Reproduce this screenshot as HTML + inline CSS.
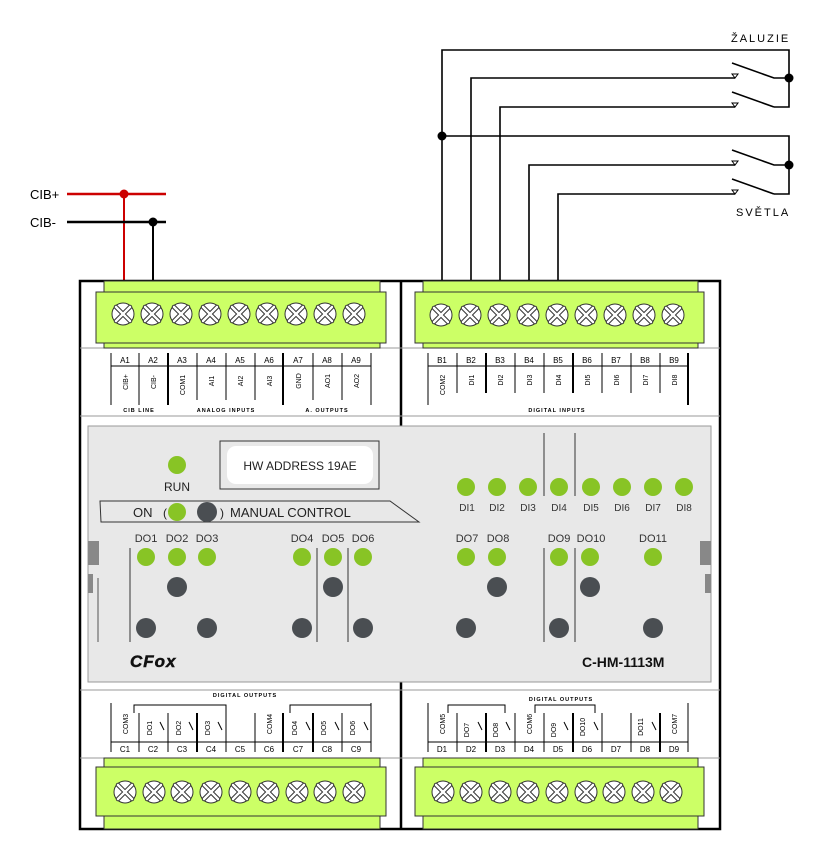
<!DOCTYPE html>
<html><head><meta charset="utf-8"><style>
html,body{margin:0;padding:0;background:#fff}
svg{display:block}
text{font-family:"Liberation Sans",sans-serif}
.s{font-size:8px;font-family:"Liberation Mono",monospace;fill:#000}
.t{font-size:5.5px;font-weight:bold;letter-spacing:1px;fill:#000}
.l{font-size:12px;fill:#222}
.d{font-size:11px;fill:#333}
</style></head><body>
<svg width="825" height="862" viewBox="0 0 825 862" xmlns="http://www.w3.org/2000/svg">
<defs>
<g id="sc">
<circle r="11" fill="#fff" stroke="#333" stroke-width="1"/>
<path d="M-7,-7 L7,7 M7,-7 L-7,7" stroke="#333" stroke-width="4.5" stroke-linecap="round"/>
<path d="M-7,-7 L7,7 M7,-7 L-7,7" stroke="#fff" stroke-width="2.5" stroke-linecap="round"/>
</g>
</defs>
<!-- wiring CIB -->
<text x="30" y="199" style="font-size:13px">CIB+</text>
<text x="30" y="227" style="font-size:13px">CIB-</text>
<line x1="67" y1="194" x2="166" y2="194" stroke="#c00" stroke-width="2.5"/>
<line x1="124" y1="194" x2="124" y2="281" stroke="#c00" stroke-width="2"/>
<circle cx="124" cy="194" r="4.5" fill="#c00"/>
<line x1="67" y1="222" x2="166" y2="222" stroke="#000" stroke-width="2.5"/>
<line x1="153" y1="222" x2="153" y2="281" stroke="#000" stroke-width="2"/>
<circle cx="153" cy="222" r="4.5" fill="#000"/>
<!-- right wiring -->
<g stroke="#000" stroke-width="1.6" fill="none">
<path d="M442,281 V50 H789 V107 H774"/>
<path d="M471,281 V78 H735"/>
<path d="M500,281 V107 H735"/>
<path d="M442,136 H789 V194 H774"/>
<path d="M529,281 V165 H735"/>
<path d="M558,281 V194 H735"/>
<path d="M732,63 L774,78 H789"/>
<path d="M732,92 L774,107"/>
<path d="M732,150 L774,165 H789"/>
<path d="M732,179 L774,194"/>
<path d="M735,78 l-3,-4 l6,0 z M735,107 l-3,-4 l6,0 z M735,165 l-3,-4 l6,0 z M735,194 l-3,-4 l6,0 z" stroke-width="1"/>
</g>
<circle cx="789" cy="78" r="4.5"/><circle cx="789" cy="165" r="4.5"/><circle cx="442" cy="136" r="4.5"/>
<text x="731" y="42" style="font-size:11px;letter-spacing:2px">ŽALUZIE</text>
<text x="736" y="216" style="font-size:11px;letter-spacing:2px">SVĚTLA</text>
<!-- module -->
<rect x="80" y="281" width="640" height="548" fill="#fff" stroke="#000" stroke-width="2.5"/>
<line x1="401" y1="281" x2="401" y2="829" stroke="#000" stroke-width="2.5"/>
<line x1="80" y1="348" x2="720" y2="348" stroke="#999" stroke-width="1"/>
<line x1="80" y1="416" x2="720" y2="416" stroke="#999" stroke-width="1"/>
<line x1="80" y1="690" x2="720" y2="690" stroke="#999" stroke-width="1"/>
<line x1="80" y1="758" x2="720" y2="758" stroke="#999" stroke-width="1"/>
<!-- terminal blocks -->
<g fill="#ccff66" stroke="#333" stroke-width="1">
<rect x="104" y="281" width="276" height="67"/><rect x="96" y="292" width="290" height="51"/>
<rect x="423" y="281" width="275" height="67"/><rect x="415" y="292" width="289" height="51"/>
<rect x="104" y="758" width="276" height="71"/><rect x="96" y="767" width="290" height="49"/>
<rect x="423" y="758" width="275" height="71"/><rect x="415" y="767" width="289" height="49"/>
</g>
<g>
<use href="#sc" x="123" y="314"/><use href="#sc" x="152" y="314"/><use href="#sc" x="181" y="314"/><use href="#sc" x="210" y="314"/><use href="#sc" x="239" y="314"/><use href="#sc" x="267" y="314"/><use href="#sc" x="296" y="314"/><use href="#sc" x="325" y="314"/><use href="#sc" x="354" y="314"/>
<use href="#sc" x="441" y="315"/><use href="#sc" x="470" y="315"/><use href="#sc" x="499" y="315"/><use href="#sc" x="528" y="315"/><use href="#sc" x="557" y="315"/><use href="#sc" x="586" y="315"/><use href="#sc" x="615" y="315"/><use href="#sc" x="644" y="315"/><use href="#sc" x="673" y="315"/>
<use href="#sc" x="125" y="792"/><use href="#sc" x="154" y="792"/><use href="#sc" x="182" y="792"/><use href="#sc" x="211" y="792"/><use href="#sc" x="240" y="792"/><use href="#sc" x="268" y="792"/><use href="#sc" x="297" y="792"/><use href="#sc" x="325" y="792"/><use href="#sc" x="354" y="792"/>
<use href="#sc" x="443" y="792"/><use href="#sc" x="471" y="792"/><use href="#sc" x="500" y="792"/><use href="#sc" x="528" y="792"/><use href="#sc" x="557" y="792"/><use href="#sc" x="586" y="792"/><use href="#sc" x="614" y="792"/><use href="#sc" x="643" y="792"/><use href="#sc" x="671" y="792"/>
</g>
<!-- top-left labels -->
<g stroke="#000" stroke-width="1">
<line x1="111" y1="354" x2="371" y2="354" stroke="none"/>
<line x1="111" y1="366" x2="371" y2="366"/>
<path d="M111,353V405 M139,353V405 M197,353V400 M226,353V400 M255,353V400 M313,353V400 M342,353V400 M371,353V405"/>
<path d="M168,353V405 M283,353V405" stroke-width="2"/>
</g>
<g class="s" text-anchor="middle">
<text x="125" y="363">A1</text><text x="153" y="363">A2</text><text x="182" y="363">A3</text><text x="211" y="363">A4</text><text x="240" y="363">A5</text><text x="269" y="363">A6</text><text x="298" y="363">A7</text><text x="327" y="363">A8</text><text x="356" y="363">A9</text>
</g>
<g class="s" text-anchor="middle" style="font-size:7px">
<text transform="translate(128,382) rotate(-90)">CIB+</text><text transform="translate(156,382) rotate(-90)">CIB-</text><text transform="translate(185,385) rotate(-90)">COM1</text><text transform="translate(214,381) rotate(-90)">AI1</text><text transform="translate(243,381) rotate(-90)">AI2</text><text transform="translate(272,381) rotate(-90)">AI3</text><text transform="translate(301,381) rotate(-90)">GND</text><text transform="translate(330,381) rotate(-90)">AO1</text><text transform="translate(359,381) rotate(-90)">AO2</text>
</g>
<g class="t" text-anchor="middle"><text x="139" y="412">CIB LINE</text><text x="226" y="412">ANALOG INPUTS</text><text x="327" y="412">A. OUTPUTS</text><text x="557" y="412">DIGITAL INPUTS</text><text x="245" y="697">DIGITAL OUTPUTS</text><text x="561" y="701">DIGITAL OUTPUTS</text></g>
<!-- top-right labels -->
<g stroke="#000" stroke-width="1">
<line x1="428" y1="366" x2="688" y2="366"/>
<path d="M428,353V405 M457,353V393 M515,353V393 M544,353V393 M602,353V393 M631,353V393 M660,353V393"/>
<path d="M486,353V393 M573,353V393 M688,353V405" stroke-width="2"/>
</g>
<g class="s" text-anchor="middle">
<text x="442" y="363">B1</text><text x="471" y="363">B2</text><text x="500" y="363">B3</text><text x="529" y="363">B4</text><text x="558" y="363">B5</text><text x="587" y="363">B6</text><text x="616" y="363">B7</text><text x="645" y="363">B8</text><text x="674" y="363">B9</text>
</g>
<g class="s" text-anchor="middle" style="font-size:7px">
<text transform="translate(445,385) rotate(-90)">COM2</text><text transform="translate(474,380) rotate(-90)">DI1</text><text transform="translate(503,380) rotate(-90)">DI2</text><text transform="translate(532,380) rotate(-90)">DI3</text><text transform="translate(561,380) rotate(-90)">DI4</text><text transform="translate(590,380) rotate(-90)">DI5</text><text transform="translate(619,380) rotate(-90)">DI6</text><text transform="translate(648,380) rotate(-90)">DI7</text><text transform="translate(677,380) rotate(-90)">DI8</text>
</g>
<!-- bottom-left labels -->
<g stroke="#000" stroke-width="1" fill="none">
<line x1="111" y1="742" x2="371" y2="742"/>
<path d="M111,703V752 M139,713V752 M168,713V752 M226,713V752 M255,713V752 M342,713V752 M371,703V752"/>
<path d="M197,713V752 M313,713V752 M283,713V752" stroke-width="2"/>
<path d="M134,713V705H226V713" />
<path d="M290,713V705H371" />
<path d="M160,722l4,8 M189,722l4,8 M218,722l4,8 M306,722l4,8 M335,722l4,8 M364,722l4,8"/>
</g>
<g class="s" text-anchor="middle">
<text x="125" y="752">C1</text><text x="153" y="752">C2</text><text x="182" y="752">C3</text><text x="211" y="752">C4</text><text x="240" y="752">C5</text><text x="269" y="752">C6</text><text x="298" y="752">C7</text><text x="327" y="752">C8</text><text x="356" y="752">C9</text>
</g>
<g class="s" text-anchor="middle" style="font-size:7px">
<text transform="translate(128,724) rotate(-90)">COM3</text><text transform="translate(152,728) rotate(-90)">DO1</text><text transform="translate(181,728) rotate(-90)">DO2</text><text transform="translate(210,728) rotate(-90)">DO3</text><text transform="translate(272,724) rotate(-90)">COM4</text><text transform="translate(297,728) rotate(-90)">DO4</text><text transform="translate(326,728) rotate(-90)">DO5</text><text transform="translate(355,728) rotate(-90)">DO6</text>
</g>
<!-- bottom-right labels -->
<g stroke="#000" stroke-width="1" fill="none">
<line x1="428" y1="742" x2="688" y2="742"/>
<path d="M428,703V752 M457,713V752 M515,713V752 M544,713V752 M602,713V752 M631,713V752 M660,713V752 M688,703V752"/>
<path d="M486,713V752 M573,713V752 M660,713V752" stroke-width="2"/>
<path d="M448,713V705H505V713"/>
<path d="M535,713V705H595V713"/>
<path d="M478,722l4,8 M506,722l4,8 M564,722l4,8 M594,722l4,8 M652,722l4,8"/>
</g>
<g class="s" text-anchor="middle">
<text x="442" y="752">D1</text><text x="471" y="752">D2</text><text x="500" y="752">D3</text><text x="529" y="752">D4</text><text x="558" y="752">D5</text><text x="587" y="752">D6</text><text x="616" y="752">D7</text><text x="645" y="752">D8</text><text x="674" y="752">D9</text>
</g>
<g class="s" text-anchor="middle" style="font-size:7px">
<text transform="translate(445,724) rotate(-90)">COM5</text><text transform="translate(469,730) rotate(-90)">DO7</text><text transform="translate(498,730) rotate(-90)">DO8</text><text transform="translate(532,724) rotate(-90)">COM6</text><text transform="translate(556,730) rotate(-90)">DO9</text><text transform="translate(585,727) rotate(-90)">DO10</text><text transform="translate(643,727) rotate(-90)">DO11</text><text transform="translate(677,724) rotate(-90)">COM7</text>
</g>
<!-- panel -->
<rect x="88" y="426" width="623" height="256" fill="#e8e8e8" stroke="#999" stroke-width="1"/>
<rect x="88" y="541" width="11" height="24" fill="#888"/><rect x="88" y="574" width="5" height="19" fill="#888"/>
<line x1="98" y1="578" x2="98" y2="642" stroke="#555"/>
<rect x="700" y="541" width="11" height="24" fill="#888"/><rect x="705" y="574" width="6" height="19" fill="#888"/>
<rect x="220" y="441" width="159" height="48" fill="none" stroke="#333"/>
<rect x="227" y="446" width="146" height="38" rx="9" fill="#fff"/>
<text x="300" y="470" text-anchor="middle" style="font-size:12px;fill:#222">HW ADDRESS 19AE</text>
<path d="M100,501 H390 L419,522 H101 Z" fill="none" stroke="#333"/>
<text x="177" y="491" text-anchor="middle" class="l">RUN</text>
<text x="133" y="517" class="l" style="font-size:13px">ON</text>
<text x="230" y="517" class="l" style="font-size:13px">MANUAL CONTROL</text>
<text x="163" y="517" class="l">(</text><text x="220" y="517" class="l">)</text>
<g stroke="#333" stroke-width="1"><path d="M130,548V642 M317,548V642 M348,548V642 M544,548V642 M575,548V642 M544,433V496 M575,433V496"/></g>
<g class="d" text-anchor="middle">
<text x="146" y="542">DO1</text><text x="177" y="542">DO2</text><text x="207" y="542">DO3</text><text x="302" y="542">DO4</text><text x="333" y="542">DO5</text><text x="363" y="542">DO6</text>
<text x="467" y="542">DO7</text><text x="498" y="542">DO8</text><text x="559" y="542">DO9</text><text x="591" y="542">DO10</text><text x="653" y="542">DO11</text>
<text x="467" y="511" style="font-size:10px">DI1</text><text x="497" y="511" style="font-size:10px">DI2</text><text x="528" y="511" style="font-size:10px">DI3</text><text x="559" y="511" style="font-size:10px">DI4</text><text x="591" y="511" style="font-size:10px">DI5</text><text x="622" y="511" style="font-size:10px">DI6</text><text x="653" y="511" style="font-size:10px">DI7</text><text x="684" y="511" style="font-size:10px">DI8</text>
</g>
<g fill="#88c425">
<circle cx="177" cy="465" r="9"/><circle cx="177" cy="512" r="9"/>
<circle cx="146" cy="557" r="9"/><circle cx="177" cy="557" r="9"/><circle cx="207" cy="557" r="9"/><circle cx="302" cy="557" r="9"/><circle cx="333" cy="557" r="9"/><circle cx="363" cy="557" r="9"/>
<circle cx="466" cy="557" r="9"/><circle cx="497" cy="557" r="9"/><circle cx="559" cy="557" r="9"/><circle cx="590" cy="557" r="9"/><circle cx="653" cy="557" r="9"/>
<circle cx="466" cy="487" r="9"/><circle cx="497" cy="487" r="9"/><circle cx="528" cy="487" r="9"/><circle cx="559" cy="487" r="9"/><circle cx="591" cy="487" r="9"/><circle cx="622" cy="487" r="9"/><circle cx="653" cy="487" r="9"/><circle cx="684" cy="487" r="9"/>
</g>
<g fill="#4a4e52">
<circle cx="207" cy="512" r="10"/>
<circle cx="177" cy="587" r="10"/><circle cx="333" cy="587" r="10"/><circle cx="497" cy="587" r="10"/><circle cx="590" cy="587" r="10"/>
<circle cx="146" cy="628" r="10"/><circle cx="207" cy="628" r="10"/><circle cx="302" cy="628" r="10"/><circle cx="363" cy="628" r="10"/><circle cx="466" cy="628" r="10"/><circle cx="559" cy="628" r="10"/><circle cx="653" cy="628" r="10"/>
</g>
<text x="130" y="667" style="font-size:17px;font-weight:bold;font-style:italic;fill:#111;stroke:#111;stroke-width:0.5;letter-spacing:1px">CFox</text>
<text x="582" y="667" style="font-size:14px;font-weight:bold;fill:#111">C-HM-1113M</text>
</svg>
</body></html>
